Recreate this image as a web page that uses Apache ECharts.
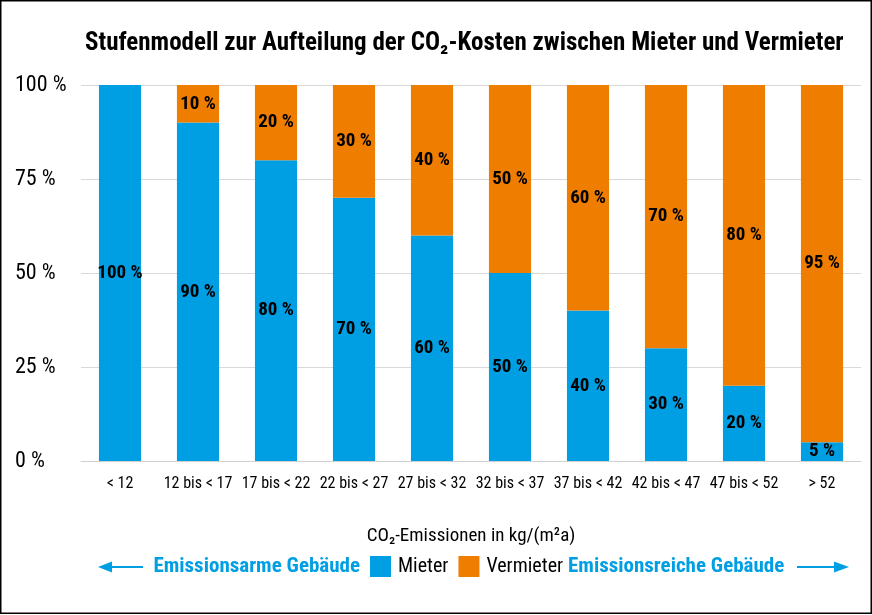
<!DOCTYPE html>
<html><head><meta charset="utf-8">
<script src="https://cdn.jsdelivr.net/npm/echarts@6/dist/echarts.min.js"></script>
<style>html,body{margin:0;padding:0;background:#fff}#c{width:872px;height:615px}</style>
</head><body><div id="c"></div>
<script>
const categories = ['< 12','12 bis < 17','17 bis < 22','22 bis < 27','27 bis < 32','32 bis < 37','37 bis < 42','42 bis < 47','47 bis < 52','> 52'];
const mieter = [100,90,80,70,60,50,40,30,20,5];
const vermieter = [0,10,20,30,40,50,60,70,80,95];
const yTicks = [0,25,50,75,100];
const BLUE = '#009FE3', ORANGE = '#EF7D00';
const FONT = '"Roboto Condensed","Liberation Sans Narrow",Roboto,sans-serif';
const TITLE = 'Stufenmodell zur Aufteilung der CO₂-Kosten zwischen Mieter und Vermieter';

const titleFont = 'bold 25px ' + FONT;
const blueFont = 'bold 21px ' + FONT;

const chart = echarts.init(document.getElementById('c'));
const lbl = {show:true, position:'inside', color:'#000', fontFamily:FONT, fontWeight:'bold', fontSize:19,
  formatter: p => p.value > 0 ? p.value + ' %' : ''};
chart.setOption({
  animation:false,
  legend:{data:['Mieter','Vermieter'], left:370, top:556, padding:0, itemWidth:21, itemHeight:21, itemGap:10, icon:'rect',
    textStyle:{fontFamily:FONT, fontSize:20, color:'#000', padding:[0,0,0,2]}},
  grid:{left:81, right:11, top:85, bottom:154},
  xAxis:{type:'category', data:categories, axisTick:{show:false},
    axisLine:{lineStyle:{color:'#d0d0d0'}},
    axisLabel:{interval:0, fontFamily:FONT, fontSize:16, color:'#000', margin:15},
    name:'CO₂-Emissionen in kg/(m²a)', nameLocation:'middle', nameGap:66,
    nameTextStyle:{fontFamily:FONT, fontSize:19, color:'#000'}},
  yAxis:{type:'value', min:0, max:100, interval:25,
    axisLabel:{formatter: v => yTicks.includes(v) ? v + ' %' : '', fontFamily:FONT, fontSize:22, color:'#000', align:'left', margin:66},
    splitLine:{lineStyle:{color:'#d9d9d9'}}, axisLine:{show:false}, axisTick:{show:false}},
  series:[
    {name:'Mieter', type:'bar', stack:'a', data:mieter, barWidth:'54%', itemStyle:{color:BLUE}, label:lbl},
    {name:'Vermieter', type:'bar', stack:'a', data:vermieter, barWidth:'54%', itemStyle:{color:ORANGE}, label:lbl}
  ],
  graphic:[
    {type:'rect', shape:{x:0.75,y:0.75,width:870.5,height:612.5}, style:{fill:null, stroke:'#000', lineWidth:1.5}, silent:true},
    {type:'text', x:85, y:44, style:{text:TITLE, fill:'#000', font:titleFont, verticalAlign:'middle'}},
    {type:'text', x:360, y:567, style:{text:'Emissionsarme Gebäude', fill:BLUE, font:blueFont, align:'right', verticalAlign:'middle'}},
    {type:'text', x:568, y:567, style:{text:'Emissionsreiche Gebäude', fill:BLUE, font:blueFont, align:'left', verticalAlign:'middle'}},
    {type:'line', shape:{x1:108,y1:567,x2:143,y2:567}, style:{stroke:BLUE, lineWidth:2}},
    {type:'polygon', shape:{points:[[98,567],[112,561.5],[112,572.5]]}, style:{fill:BLUE}},
    {type:'line', shape:{x1:797,y1:567,x2:836,y2:567}, style:{stroke:BLUE, lineWidth:2}},
    {type:'polygon', shape:{points:[[849,567],[834,561.5],[834,572.5]]}, style:{fill:BLUE}}
  ]
});
</script></body></html>
